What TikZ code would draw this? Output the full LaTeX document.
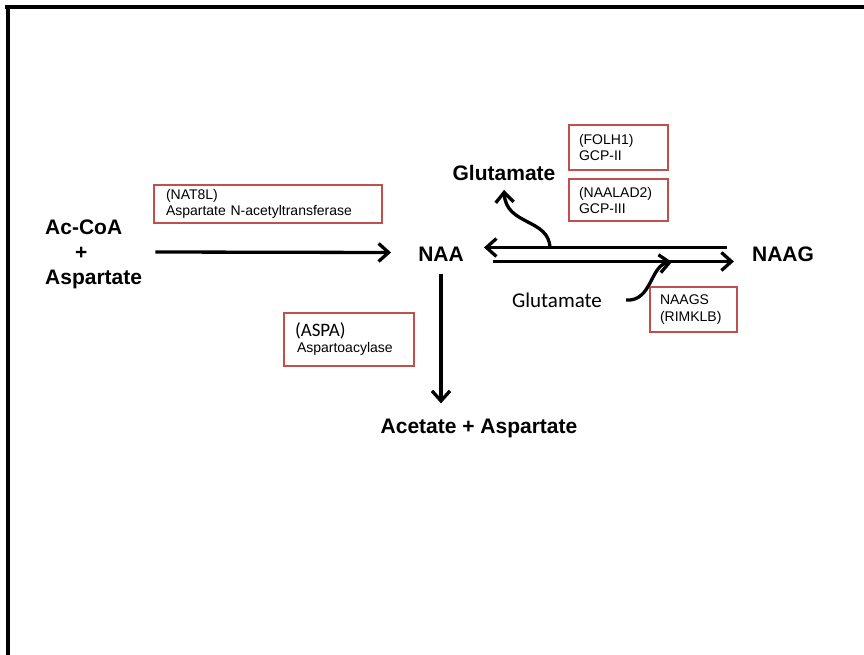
\documentclass[tikz,border=0pt]{standalone}
\usepackage{fontspec}
\setmainfont{Liberation Sans}
\newfontfamily\calibrifont{Carlito}
\usetikzlibrary{arrows.meta}
\definecolor{boxred}{RGB}{192,80,77}

\begin{document}
\begin{tikzpicture}[x=1pt,y=-1pt,
metab/.style={font=\fontsize{21}{25}\selectfont\bfseries, inner sep=0pt},
enzyme/.style={draw=boxred, line width=1.8pt, align=left, inner ysep=0pt, font=\fontsize{14}{16}\selectfont},
rxn/.style={-{Straight Barb[length=10pt,width=18pt]}, line width=3.3pt},
frame/.style={line width=4pt}]

\useasboundingbox (0,0) rectangle (864,655);

% frame
\draw[frame] (5,7) -- (864,7);
\draw[frame] (7.5,5) -- (7.5,655);

% metabolites
\node[metab, anchor=west, align=left] (sub) at (45,254) {Ac-CoA\\\hspace*{30pt}+\\Aspartate};
\node[metab] (naa) at (441,254.5) {NAA};
\node[metab] (naag) at (783,254.5) {NAAG};
\node[metab] (glutop) at (504,173) {Glutamate};
\node[font=\calibrifont\fontsize{21}{25}\selectfont, inner sep=0pt] (glulow) at (557,300) {Glutamate};
\node[metab, anchor=base] (prod) at (479,433) {Acetate + Aspartate};

% enzymes
\node[enzyme, text width=204pt, inner xsep=12pt, minimum height=38pt] (nat8l) at (268,204) {(NAT8L)\\Aspartate N-acetyltransferase};
\node[enzyme, text width=79pt, inner xsep=10pt, minimum height=45pt] (folh) at (618.5,147.5) {(FOLH1)\\GCP-II};
\node[enzyme, text width=79pt, inner xsep=10pt, minimum height=42pt] (naalad) at (618.5,200) {(NAALAD2)\\GCP-III};
\node[enzyme, text width=67pt, inner xsep=10pt, minimum height=45pt] (naags) at (693.5,309.5) {NAAGS\\[1pt](RIMKLB)};
\node[enzyme, text width=108pt, inner xsep=11pt, minimum height=53pt] (aspa) at (349,339.5) {{\calibrifont\fontsize{19}{22}\selectfont (ASPA)}\\\hspace*{2pt}Aspartoacylase};

% reactions
\draw[rxn] ([shift={(13pt,2pt)}]sub.east) -- ([shift={(-27pt,2pt)}]naa.west);
\draw[rxn] ([yshift=-12pt]naa.south) -- (naa.south |- prod.north) [shorten >=15pt];
\draw[rxn] ([shift={(-25pt,7pt)}]naag.west) -- ([shift={(20pt,7pt)}]naa.east);
\draw[rxn] ([shift={(29pt,-7pt)}]naa.east) -- ([shift={(-18pt,-7pt)}]naag.west);

\coordinate (cleave) at (550,248);
\coordinate (ligate) at (672,262);
\draw[rxn] (cleave) .. controls (549,218) and (506,226) .. ([yshift=-9pt]glutop.south);
\draw[rxn] ([xshift=24pt]glulow.east) .. controls (652,302) and (650,265) .. (ligate);

\end{tikzpicture}
\end{document}
